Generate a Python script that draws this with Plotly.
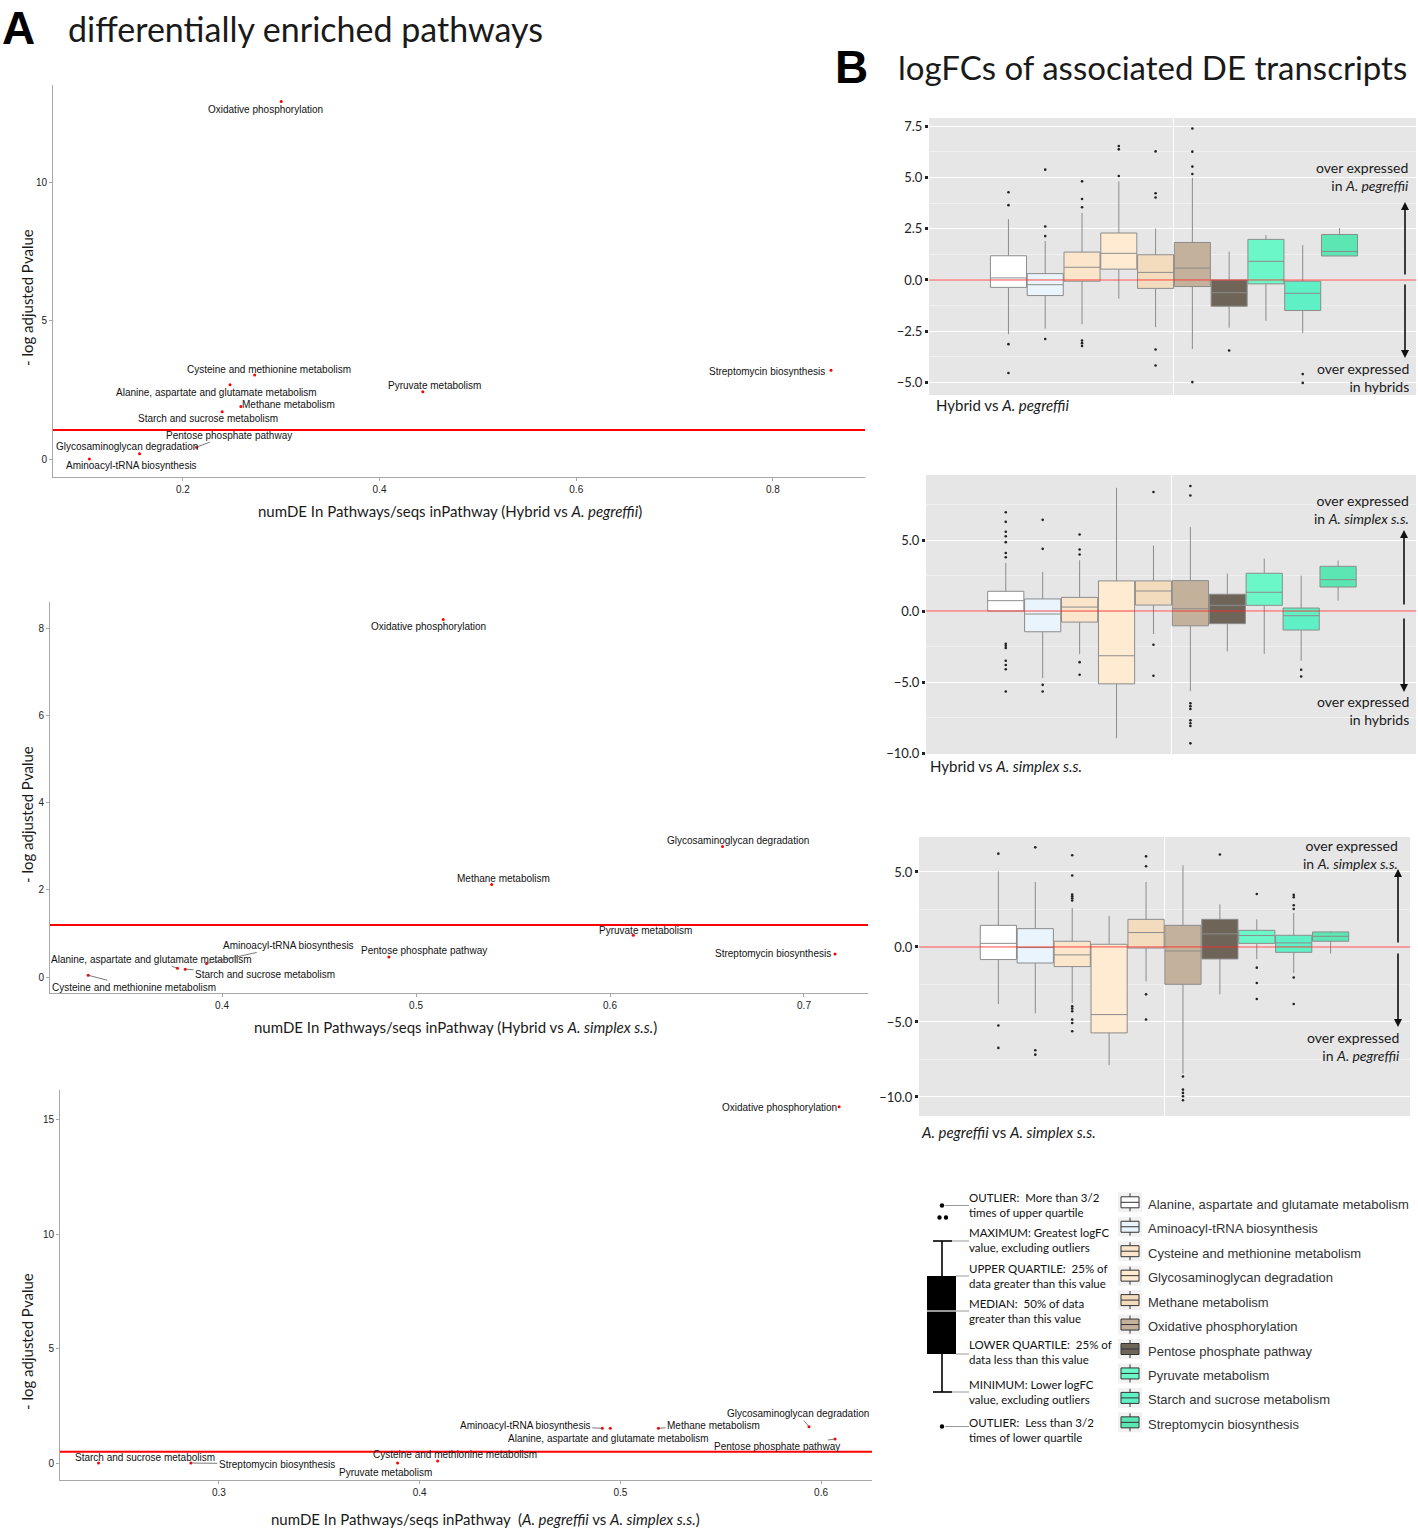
import plotly.graph_objects as go

W = 1418
REF_H = 1531      # reference picture height: all positions below are given in its pixels
H_FIG = 1538      # figure height (compensates the vertical squeeze seen in the rendered picture)
def PX(x): return x / W
def PY(y): return 1 - y / REF_H

# ---------------- DATA ----------------
pathways = ["Alanine, aspartate and glutamate metabolism", "Aminoacyl-tRNA biosynthesis",
            "Cysteine and methionine metabolism", "Glycosaminoglycan degradation",
            "Methane metabolism", "Oxidative phosphorylation", "Pentose phosphate pathway",
            "Pyruvate metabolism", "Starch and sucrose metabolism", "Streptomycin biosynthesis"]

# Panel A: ratio numDE/seqs in pathway and -log adjusted P
ratio_hp = [0.248, 0.105, 0.273, 0.156, 0.259, 0.300, 0.214, 0.444, 0.240, 0.859]
logp_hp = [2.69, 0.00, 3.04, 0.19, 1.90, 12.95, 0.43, 2.44, 1.71, 3.22]
ratio_hs = [0.377, 0.392, 0.331, 0.658, 0.539, 0.514, 0.486, 0.612, 0.381, 0.716]
logp_hs = [0.20, 0.31, 0.04, 2.99, 2.12, 8.20, 0.46, 0.96, 0.18, 0.53]
ratio_ps = [0.495, 0.491, 0.409, 0.594, 0.519, 0.609, 0.607, 0.389, 0.240, 0.286]
logp_ps = [1.52, 1.52, 0.09, 1.59, 1.52, 15.58, 1.05, 0.00, 0.00, 0.00]
thresholds = [1.05, 1.19, 0.49]

# Panel B: logFC box statistics
hp_lower = [-2.64, -2.37, -2.16, -0.91, -2.30, -3.37, -2.33, -1.99, -2.59, 1.17]
hp_q1 = [-0.36, -0.76, -0.06, 0.53, -0.41, -0.32, -1.28, -0.19, -1.49, 1.17]
hp_median = [0.10, -0.23, 0.62, 1.30, 0.37, 0.58, -0.62, 0.91, -0.65, 1.39]
hp_q3 = [1.18, 0.31, 1.36, 2.29, 1.23, 1.83, 0.00, 1.98, -0.06, 2.22]
hp_upper = [2.97, 1.90, 3.27, 4.81, 2.51, 4.98, 1.38, 2.19, 1.70, 2.53]
hp_outliers = [[4.28, 3.65, -3.13, -4.54], [5.38, 2.61, 2.14, -2.88],
               [4.81, 3.95, 3.55, -2.95, -3.08, -3.22], [6.53, 6.37, 5.07],
               [6.27, 4.23, 4.02, -3.39, -4.17], [7.39, 6.26, 5.53, 5.17, -4.98],
               [-3.44], [], [-4.59, -5.02], []]

hs_lower = [0.00, -4.73, -3.04, -8.96, -1.62, -5.65, -2.85, -3.01, -3.51, 0.73]
hs_q1 = [0.00, -1.46, -0.78, -5.13, 0.42, -1.04, -0.89, 0.40, -1.34, 1.69]
hs_median = [0.73, -0.21, 0.28, -3.15, 1.41, 0.16, 0.40, 1.32, -0.33, 2.21]
hs_q3 = [1.39, 0.85, 0.96, 2.12, 2.12, 2.14, 1.18, 2.66, 0.21, 3.15]
hs_upper = [3.39, 2.75, 3.58, 8.68, 4.61, 5.91, 2.64, 3.69, 2.49, 3.55]
hs_outliers = [[6.96, 6.28, 5.58, 5.27, 4.85, 4.09, 3.79, -2.30, -2.45, -2.60, -3.50, -3.80, -4.10, -5.67],
               [6.42, 4.38, -5.20, -5.67], [5.39, 4.33, 3.98, -3.60, -4.49], [],
               [8.38, -2.38, -4.56], [8.80, 8.14, -6.50, -6.70, -6.90, -7.70, -7.90, -8.10, -9.32],
               [], [], [-4.14, -4.61], []]

ps_lower = [-3.80, -4.42, -3.73, -7.89, -2.29, -8.44, -3.16, -0.82, -1.73, -0.44]
ps_q1 = [-0.84, -1.07, -1.31, -5.73, -0.07, -2.49, -0.80, 0.24, -0.36, 0.38]
ps_median = [0.24, -0.04, -0.53, -4.51, 0.96, -0.27, 0.87, 0.76, 0.27, 0.71]
ps_q3 = [1.44, 1.22, 0.38, 0.18, 1.84, 1.44, 1.84, 1.11, 0.78, 1.00]
ps_upper = [5.04, 4.33, 2.60, 2.07, 4.33, 5.44, 2.84, 1.84, 2.27, 1.04]
ps_outliers = [[6.22, -5.24, -6.73], [6.64, -6.89, -7.18],
               [6.11, 4.76, 3.50, 3.38, 3.25, 3.10, -3.96, -4.11, -4.29, -4.84, -5.07, -5.62],
               [], [6.04, 5.38, -3.16, -4.84], [-8.64, -9.51, -9.73, -9.95, -10.22],
               [6.16], [3.53, -1.38, -2.40, -3.47], [3.47, 3.31, 2.78, 2.53, -2.04, -3.80], []]

# ---------------- STYLE ----------------
box_colors = ["#FFFFFF", "#EAF4FC", "#FBE6CC", "#FEEBD2", "#F3DCBE", "#C4B19B",
              "#6E6558", "#6CF7C8", "#60F0C6", "#5CE6B4"]
TXT = "Liberation Sans, Arial, sans-serif"
MY = "Lato, Open Sans, sans-serif"

# label offsets (pixels, label centre relative to point) and whether a leader line is drawn
lab_hp = [(-14, 8, 0), (42, 6, 1), (14, -6, 0), (-13, -7, 0), (48, -2, 0), (-16, 8, 0),
          (32, -12, 1), (12, -6, 0), (-14, 7, 0), (-64, 1, 0)]
lab_hs = [(-26, -9, 1), (82, -18, 1), (46, 12, 1), (15, -6, 0), (12, -6, 0), (-15, 7, 0),
          (35, -6, 0), (12, -5, 0), (80, 5, 1), (-62, 0, 0)]
lab_ps = [(-2, 10, 0), (-77, -3, 1), (17, -6, 0), (-11, -13, 1), (55, -3, 1), (-60, 1, 0),
          (-58, 8, 1), (-12, 9, 0), (46, -6, 0), (86, 1, 1)]

fig = go.Figure()
annotations = []
shapes = []

# ---------------- PANEL A: scatter ----------------
scatter_panels = [
    ("x", "y", ratio_hp, logp_hp, thresholds[0], lab_hp),
    ("x2", "y2", ratio_hs, logp_hs, thresholds[1], lab_hs),
    ("x3", "y3", ratio_ps, logp_ps, thresholds[2], lab_ps),
]
for xa, ya, xs, ys, thr, labs in scatter_panels:
    fig.add_trace(go.Scatter(x=xs, y=ys, mode="markers", xaxis=xa, yaxis=ya,
                             marker=dict(color="red", size=3), text=pathways,
                             hoverinfo="text+x+y", showlegend=False))
    shapes.append(dict(type="line", xref=f"{xa} domain", x0=0, x1=1, yref=ya, y0=thr, y1=thr,
                       line=dict(color="#FF0000", width=2), layer="above"))
    for i, name in enumerate(pathways):
        dx, dy, arrow = labs[i]
        if arrow:
            annotations.append(dict(x=xs[i], y=ys[i], xref=xa, yref=ya, text=name,
                                    showarrow=True, ax=dx, ay=dy, arrowhead=0, arrowwidth=0.8,
                                    arrowcolor="#555", standoff=0, startstandoff=0,
                                    font=dict(family=TXT, size=10, color="#111")))
        else:
            annotations.append(dict(x=xs[i], y=ys[i], xref=xa, yref=ya, text=name,
                                    showarrow=False, xshift=dx, yshift=-dy,
                                    font=dict(family=TXT, size=10, color="#111")))

# ---------------- PANEL B: boxes ----------------
box_panels = [
    ("x4", "y4", hp_lower, hp_q1, hp_median, hp_q3, hp_upper, hp_outliers),
    ("x5", "y5", hs_lower, hs_q1, hs_median, hs_q3, hs_upper, hs_outliers),
    ("x6", "y6", ps_lower, ps_q1, ps_median, ps_q3, ps_upper, ps_outliers),
]
for xa, ya, lo, q1, med, q3, up, outs in box_panels:
    shapes.append(dict(type="rect", xref=f"{xa} domain", yref=f"{ya} domain", x0=0, x1=1, y0=0, y1=1,
                       fillcolor="#E6E6E6", line=dict(width=0), layer="below"))
    for i in range(10):
        fig.add_trace(go.Box(x=[i + 1], q1=[q1[i]], median=[med[i]], q3=[q3[i]],
                             lowerfence=[lo[i]], upperfence=[up[i]], width=0.98,
                             fillcolor=box_colors[i], line=dict(color="#8C8C8C", width=1),
                             whiskerwidth=0, boxpoints=False, name=pathways[i],
                             xaxis=xa, yaxis=ya, showlegend=False))
    ox, oy = [], []
    for i, lst in enumerate(outs):
        for v in lst:
            ox.append(i + 1)
            oy.append(v)
    fig.add_trace(go.Scatter(x=ox, y=oy, mode="markers", xaxis=xa, yaxis=ya,
                             marker=dict(color="#222", size=2.6), showlegend=False,
                             hoverinfo="y"))
    shapes.append(dict(type="line", xref=f"{xa} domain", x0=0, x1=1, yref=ya, y0=0, y1=0,
                       line=dict(color="rgba(255,40,40,0.85)", width=1), layer="above"))

# ---------------- AXES ----------------
def dom(a, b, size):
    return [a / size, b / size]

def ydom(top, bottom):
    return [1 - bottom / REF_H, 1 - top / REF_H]

sc_axis = dict(showgrid=False, zeroline=False, showline=True, linecolor="#A8A8A8", linewidth=1,
               ticks="outside", ticklen=3, tickcolor="#A8A8A8", tickfont=dict(family=TXT, size=10, color="#222"))

layout_axes = dict(
    xaxis=dict(domain=dom(53, 865, W), range=[0.068, 0.8936], anchor="y",
               tickvals=[0.2, 0.4, 0.6, 0.8], **sc_axis),
    yaxis=dict(domain=ydom(85, 477), range=[-0.652, 13.55], anchor="x",
               tickvals=[0, 5, 10], **sc_axis),
    xaxis2=dict(domain=dom(50, 868, W), range=[0.3113, 0.733], anchor="y2",
                tickvals=[0.4, 0.5, 0.6, 0.7], **sc_axis),
    yaxis2=dict(domain=ydom(602, 993), range=[-0.367, 8.6], anchor="x2",
                tickvals=[0, 2, 4, 6, 8], **sc_axis),
    xaxis3=dict(domain=dom(60, 872, W), range=[0.2208, 0.6254], anchor="y3",
                tickvals=[0.3, 0.4, 0.5, 0.6], **sc_axis),
    yaxis3=dict(domain=ydom(1090, 1480), range=[-0.743, 16.31], anchor="x3",
                tickvals=[0, 5, 10, 15], **sc_axis),
)

bx_x = dict(showticklabels=False, tickvals=[5.5], showgrid=True, gridcolor="white", gridwidth=1,
            zeroline=False, showline=False, ticks="")
bx_y = dict(showgrid=True, gridcolor="white", gridwidth=1, zeroline=False, showline=False,
            ticks="outside", ticklen=3, tickwidth=3, tickcolor="#222", tickformat=".1f",
            tickfont=dict(family=MY, size=13, color="#222"))

layout_axes.update(
    xaxis4=dict(domain=dom(929, 1416, W), range=[-1.16, 12.08], anchor="y4", **bx_x),
    yaxis4=dict(domain=ydom(118, 395), range=[-5.61, 7.9], anchor="x4",
                tickvals=[-5, -2.5, 0, 2.5, 5, 7.5],
                minor=dict(tickvals=[-3.75, -1.25, 1.25, 3.75, 6.25], showgrid=True, gridcolor="#F0F0F0"), **bx_y),
    xaxis5=dict(domain=dom(926, 1416, W), range=[-1.16, 12.11], anchor="y5", **bx_x),
    yaxis5=dict(domain=ydom(475, 754), range=[-10.07, 9.58], anchor="x5",
                tickvals=[-10, -5, 0, 5],
                minor=dict(tickvals=[-7.5, -2.5, 2.5, 7.5], showgrid=True, gridcolor="#F0F0F0"), **bx_y),
    xaxis6=dict(domain=dom(919, 1410, W), range=[-1.15, 12.15], anchor="y6", **bx_x),
    yaxis6=dict(domain=ydom(837, 1116), range=[-11.27, 7.33], anchor="x6",
                tickvals=[-10, -5, 0, 5],
                minor=dict(tickvals=[-7.5, -2.5, 2.5], showgrid=True, gridcolor="#F0F0F0"), **bx_y),
)

# ---------------- TEXTS ----------------
def txt(px, py, s, size, family=MY, xanchor="left", color="#1a1a1a", angle=0, align="left", yanchor="middle"):
    annotations.append(dict(x=PX(px), y=PY(py), xref="paper", yref="paper", text=s, showarrow=False,
                            xanchor=xanchor, yanchor=yanchor, textangle=angle, align=align,
                            font=dict(family=family, size=size, color=color)))

txt(0, 0, "<b>A</b>", 46, family=TXT, color="#000", yanchor="top")
txt(66, 28, "differentially enriched pathways", 34)
txt(833, 39, "<b>B</b>", 46, family=TXT, color="#000", yanchor="top")
txt(896, 67, "logFCs of associated DE transcripts", 33)

for cy in (298, 815, 1342):
    txt(27, cy, "- log adjusted Pvalue", 15, xanchor="center", angle=-90)
txt(450, 511, "numDE In Pathways/seqs inPathway (Hybrid vs <i>A. pegreffii</i>)", 15, xanchor="center")
txt(455, 1027, "numDE In Pathways/seqs inPathway (Hybrid vs <i>A. simplex s.s.</i>)", 15, xanchor="center")
txt(485, 1519, "numDE In Pathways/seqs inPathway  (<i>A. pegreffii</i> vs <i>A. simplex s.s.</i>)", 15, xanchor="center")

# B annotations
txt(1411, 177, "over expressed<br>in <i>A. pegreffii</i>", 14, xanchor="right", align="right")
txt(1411, 378, "over expressed<br>in hybrids", 14, xanchor="right", align="right")
txt(1411, 510, "over expressed<br>in <i>A. simplex s.s.</i>", 14, xanchor="right", align="right")
txt(1411, 710, "over expressed<br>in hybrids", 14, xanchor="right", align="right")
txt(1400, 854, "over expressed<br>in <i>A. simplex s.s.</i>", 14, xanchor="right", align="right")
txt(1402, 1046, "over expressed<br>in <i>A. pegreffii</i>", 14, xanchor="right", align="right")
txt(934, 405, "Hybrid vs <i>A. pegreffii</i>", 15)
txt(928, 766, "Hybrid vs <i>A. simplex s.s.</i>", 15)
txt(919, 1132, "<i>A. pegreffii</i> vs <i>A. simplex s.s.</i>", 15)

def arrow(px, py_head, length):
    annotations.append(dict(x=PX(px), y=PY(py_head), xref="paper", yref="paper", text="",
                            showarrow=True, ax=0, ay=length, axref="pixel", ayref="pixel",
                            arrowhead=2, arrowsize=1, arrowwidth=1.6, arrowcolor="#111"))

arrow(1405, 202, 74)
arrow(1405, 358, -75)
arrow(1404, 530, 76)
arrow(1404, 692, -75)
arrow(1398, 869, 75)
arrow(1398, 1027, -75)

# ---------------- LEGEND (drawn) ----------------
def pline(x0, y0, x1, y1, color="#000", width=1):
    shapes.append(dict(type="line", xref="paper", yref="paper", x0=PX(x0), y0=PY(y0), x1=PX(x1), y1=PY(y1),
                       line=dict(color=color, width=width)))

def prect(x0, y0, x1, y1, fill, color="#000", width=1):
    shapes.append(dict(type="rect", xref="paper", yref="paper", x0=PX(x0), y0=PY(y0), x1=PX(x1), y1=PY(y1),
                       fillcolor=fill, line=dict(color=color, width=width)))

def pdot(cx, cy, r, color="#000"):
    shapes.append(dict(type="circle", xref="paper", yref="paper", x0=PX(cx - r), x1=PX(cx + r),
                       y0=PY(cy + r), y1=PY(cy - r), fillcolor=color, line=dict(width=0)))

# explanatory box
pline(942, 1241, 942, 1392, width=1.6)
pline(933, 1241, 952, 1241, width=1.6)
pline(933, 1392, 952, 1392, width=1.6)
prect(927, 1276, 956, 1354, "#000", width=0)
pline(927, 1311, 956, 1311, color="#fff", width=1.2)
pdot(942, 1205.5, 2.2)
pdot(939.5, 1217.5, 2.2)
pdot(946, 1217.5, 2.2)
pdot(942, 1426.5, 2.2)
for (x0, y) in [(945, 1205.5), (952, 1241), (956, 1276), (956, 1311), (956, 1354), (952, 1392), (945, 1426.5)]:
    pline(x0, y, 969, y, color="#999", width=1)

exp_texts = [
    (1205, "OUTLIER:  More than 3/2<br>times of upper quartile"),
    (1240, "MAXIMUM: Greatest logFC<br>value, excluding outliers"),
    (1275.5, "UPPER QUARTILE:  25% of<br>data greater than this value"),
    (1311, "MEDIAN:  50% of data<br>greater than this value"),
    (1352, "LOWER QUARTILE:  25% of<br>data less than this value"),
    (1391.5, "MINIMUM: Lower logFC<br>value, excluding outliers"),
    (1429.5, "OUTLIER:  Less than 3/2<br>times of lower quartile"),
]
for cy, s in exp_texts:
    txt(967, cy, s, 11.5, color="#111")

# pathway legend
for i, name in enumerate(pathways):
    cy = 1202.3 + i * 24.45
    prect(1118, cy - 10, 1142, cy + 10, "#F2F2F2", color="#F2F2F2", width=0)
    pline(1130, cy - 9, 1130, cy + 9, color="#333", width=1)
    prect(1121, cy - 5.5, 1139, cy + 5.5, box_colors[i], color="#333", width=1)
    pline(1121, cy, 1139, cy, color="#333", width=1)
    txt(1146, cy + 2, name, 13, family=TXT, color="#333")

fig.update_layout(
    width=W, height=H_FIG, margin=dict(l=0, r=0, t=0, b=0),
    paper_bgcolor="white", plot_bgcolor="rgba(0,0,0,0)",
    boxmode="overlay", showlegend=False,
    annotations=annotations, shapes=shapes, **layout_axes,
)

page_fix = "document.body.style.margin='0';document.body.style.padding='0';"

fig.write_html("out.html", config={"displayModeBar": False}, post_script=page_fix)
